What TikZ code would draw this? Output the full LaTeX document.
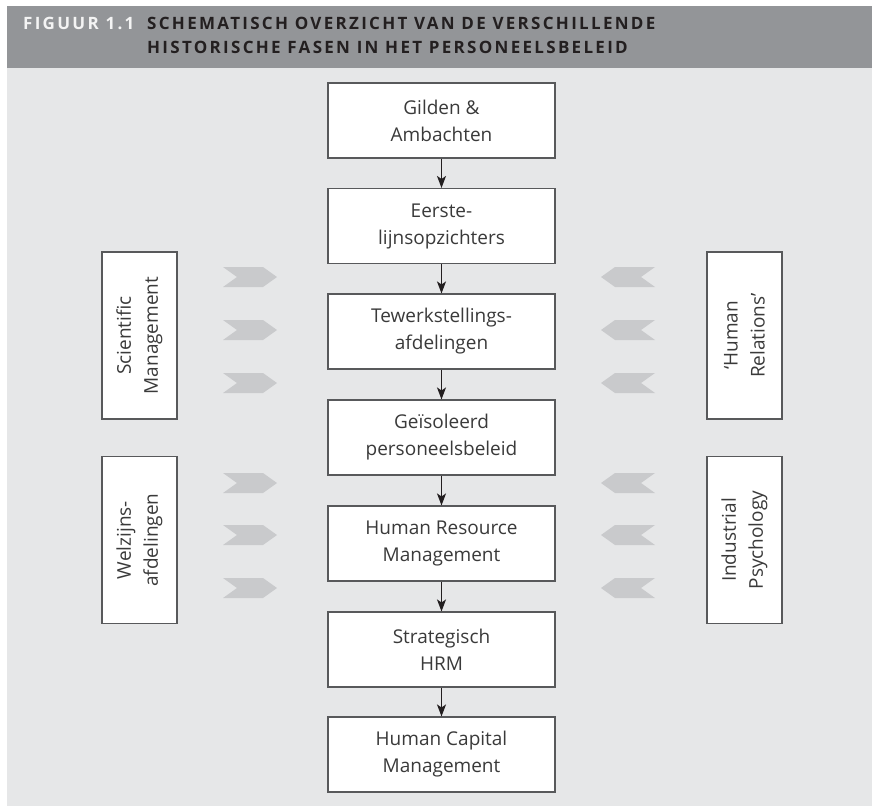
\documentclass[tikz,border=0pt]{standalone}
\usepackage{fontspec}
\setmainfont{Open Sans}
\newfontfamily\headfont[LetterSpace=13.5]{Open Sans}
\usetikzlibrary{arrows.meta}
\definecolor{bandgray}{HTML}{939598}
\definecolor{bggray}{HTML}{E6E7E8}
\definecolor{chevgray}{HTML}{C9CACC}
\definecolor{linegray}{HTML}{58595B}
\definecolor{txtgray}{HTML}{3A3A3A}
\definecolor{headdark}{HTML}{231F20}
\definecolor{headlight}{HTML}{F4F4F4}
\begin{document}
\begin{tikzpicture}[x=1pt,y=-1pt,
  phase/.style={draw=linegray, line width=1.1pt, fill=white, minimum width=227pt, minimum height=75pt,
    align=center, text=txtgray, font=\fontsize{19}{27}\selectfont, inner sep=0pt},
  side/.style={draw=linegray, line width=1.1pt, fill=white, minimum width=167pt, minimum height=75pt,
    align=center, text=txtgray, font=\fontsize{19}{27}\selectfont, inner sep=0pt, rotate=90},
  flow/.style={draw=headdark, line width=1.3pt, -{Stealth[length=12pt,width=9pt,inset=3pt]}},
  headtext/.style={anchor=base west, inner sep=0pt, font=\headfont\bfseries\fontsize{17}{20}\selectfont},
  chev/.style={fill=chevgray}]
\useasboundingbox (0,0) rectangle (872,806);
\fill[white] (0,0) rectangle (872,806);
\fill[bggray] (7,68) rectangle (872,806);
\fill[bandgray] (7,6) rectangle (872,68);
\node[headtext, text=headlight] (fig) at (23,29.5) {FIGUUR 1.1};
\node[headtext, text=headdark] (t1) at (147,29.5) {SCHEMATISCH OVERZICHT VAN DE VERSCHILLENDE};
\node[headtext, text=headdark] (t2) at (147,53) {HISTORISCHE FASEN IN HET PERSONEELSBELEID};
% chevrons
\foreach \y in {277,330,383,483,535,588} {
  \fill[chev] (223,\y-10) -- (263,\y-10) -- (277,\y) -- (263,\y+10) -- (223,\y+10) -- (237,\y) -- cycle;
  \fill[chev] (655,\y-10) -- (615,\y-10) -- (601,\y) -- (615,\y+10) -- (655,\y+10) -- (641,\y) -- cycle;
}
% phases
\node[phase] (b1) at (441.5,120.5) {Gilden \&\\Ambachten};
\node[phase] (b2) at (441.5,226) {Eerste-\\lijnsopzichters};
\node[phase] (b3) at (441.5,331.5) {Tewerkstellings-\\afdelingen};
\node[phase] (b4) at (441.5,437.5) {Geïsoleerd\\personeelsbeleid};
\node[phase] (b5) at (441.5,543.5) {Human Resource\\Management};
\node[phase] (b6) at (441.5,649.5) {Strategisch\\HRM};
\node[phase] (b7) at (441.5,754.5) {Human Capital\\Management};
\foreach \a/\b in {b1/b2,b2/b3,b3/b4,b4/b5,b5/b6,b6/b7} {
  \draw[flow] (\a.south) -- (\b.north);
}
% side boxes
\node[side] (s1) at (139.5,335.5) {Scientific\\Management};
\node[side] (s2) at (139.5,540) {Welzijns-\\afdelingen};
\node[side] (s3) at (744.5,335.5) {‘Human\\Relations’};
\node[side] (s4) at (744.5,540) {Industrial\\Psychology};
\end{tikzpicture}
\end{document}
